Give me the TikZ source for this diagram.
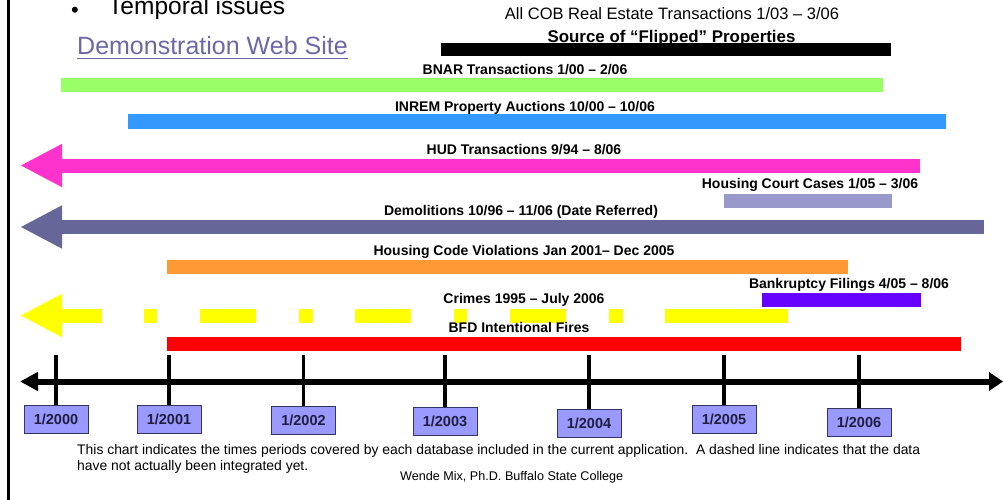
\documentclass[tikz,border=0pt]{standalone}
\usepackage{fontspec}
\setmainfont{Liberation Sans}
\usepackage{tikz}
\usepackage{xcolor}
\usetikzlibrary{positioning}
\usetikzlibrary{calc}
\usetikzlibrary{arrows.meta}
\definecolor{BNARcolor}{RGB}{153, 255, 102}
\definecolor{INREMcolor}{RGB}{51, 153, 255}
\definecolor{HUDcolor}{RGB}{255, 51, 204}
\definecolor{COURTcolor}{RGB}{153, 153, 204}
\definecolor{DEMOcolor}{RGB}{102, 102, 153}
\definecolor{CODEcolor}{RGB}{255, 153, 51}
\definecolor{BANKcolor}{RGB}{102, 0, 255}
\definecolor{CRIMEcolor}{RGB}{255, 255, 0}
\definecolor{FIREcolor}{RGB}{255, 0, 0}
\definecolor{yearfill}{RGB}{153, 153, 255}
\definecolor{yearline}{RGB}{51, 51, 102}
\definecolor{linkcolor}{RGB}{108, 104, 168}
\tikzstyle{bar} = [
	line width=14pt,
]
\tikzstyle{back} = [
	-{Triangle[length=42pt, width=40pt]},
]
\tikzstyle{barlabel} = [
	inner sep=0pt,
	anchor=base,
	font=\fontsize{14}{16}\selectfont\bfseries,
]
\tikzstyle{yearbox} = [
	draw=yearline,
	fill=yearfill,
	minimum width=64pt,
	minimum height=28pt,
	inner sep=0pt,
	text=yearline!60!black,
	font=\fontsize{14.5}{16}\selectfont\bfseries,
]
\tikzstyle{tick} = [
	line width=3.5pt,
]
\tikzstyle{axis} = [
	line width=6pt,
	{Triangle[length=18pt, width=18pt]}-{Triangle[length=14pt, width=18pt]},
]

\begin{document}
\begin{tikzpicture}[x=1pt, y=-1pt]
	\useasboundingbox (0,0) rectangle (1003,500);

	%
	% Frame and heading
	\draw[line width=2.5pt] (8.5,0) -- (8.5,500);
	\node[inner sep=0pt, anchor=base] (bullet) at (75,18) {\fontsize{22}{22}\selectfont\textbullet};
	\node[inner sep=0pt, anchor=base west, font=\fontsize{24.5}{26}\selectfont] (topic) at (108,15) {Temporal issues};
	\node[inner sep=0pt, anchor=base west, text=linkcolor, font=\fontsize{25}{27}\selectfont] (demo) at (77,55) {Demonstration Web Site};
	\draw[linkcolor, line width=1.4pt] ([yshift=-3.5pt]demo.base west) -- ([yshift=-3.5pt]demo.base east);

	%
	% Bars
	\fill[black] (441,43) rectangle (891,56);
	\draw[bar, BNARcolor] (61,85) -- (883,85);
	\draw[bar, INREMcolor] (128,121.5) -- (946,121.5);
	\draw[bar, HUDcolor, back] (920,165.5) -- (20,165.5);
	\draw[bar, COURTcolor] (724,200.5) -- (892,200.5);
	\draw[bar, DEMOcolor, back] (984,227) -- (20,227);
	\draw[bar, CODEcolor] (167,266.5) -- (848,266.5);
	\draw[bar, BANKcolor] (762,300) -- (921,300);
	\draw[bar, CRIMEcolor, back] (102,315.5) -- (20,315.5);
	\foreach \xa/\xb in {144/157, 200/256, 299/313, 355/411, 454/467, 510/566, 609/623, 665/788}
		\fill[CRIMEcolor] (\xa,308.5) rectangle (\xb,322.5);
	\draw[bar, FIREcolor] (167,344) -- (961,344);

	%
	% Bar labels
	\node[barlabel, font=\fontsize{16.5}{18}\selectfont] (COB) at (672,19.5) {All COB Real Estate Transactions 1/03 -- 3/06};
	\node[barlabel, font=\fontsize{16.9}{18}\selectfont\bfseries] (COB_src) at (671.5,42.5) {Source of “Flipped” Properties};
	\node[barlabel] (BNAR) at (525,74.5) {BNAR Transactions 1/00 -- 2/06};
	\node[barlabel] (INREM) at (525,111.5) {INREM Property Auctions 10/00 -- 10/06};
	\node[barlabel] (HUD) at (524,154.5) {HUD Transactions 9/94 -- 8/06};
	\node[barlabel] (COURT) at (810,188.5) {Housing Court Cases 1/05 -- 3/06};
	\node[barlabel] (DEMO) at (521,215.5) {Demolitions 10/96 -- 11/06 (Date Referred)};
	\node[barlabel] (CODE) at (524,255.5) {Housing Code Violations Jan 2001-- Dec 2005};
	\node[barlabel] (BANK) at (849,288.5) {Bankruptcy Filings 4/05 -- 8/06};
	\node[barlabel] (CRIME) at (524,303) {Crimes 1995 -- July 2006};
	\node[barlabel] (FIRE) at (519,332.5) {BFD Intentional Fires};

	%
	% Time axis
	\coordinate (axis_w) at (20,381.5);
	\coordinate (axis_e) at (1003,381.5);
	\draw[axis] (axis_w) -- (axis_e);

	\node[yearbox] (Y2000) at (56,419.5) {1/2000};
	\node[yearbox] (Y2001) at (169,419.5) {1/2001};
	\node[yearbox] (Y2002) at (303.5,420) {1/2002};
	\node[yearbox] (Y2003) at (445,421) {1/2003};
	\node[yearbox] (Y2004) at (589,423) {1/2004};
	\node[yearbox] (Y2005) at (724,419) {1/2005};
	\node[yearbox] (Y2006) at (859,422.5) {1/2006};

	\foreach \yr in {2000,2001,2002,2003,2004,2005,2006}{
		\coordinate (T\yr) at (Y\yr.north |- 0,355);
		\draw[tick] (T\yr) -- (Y\yr.north);
	}

	%
	% Notes
	\node[inner sep=0pt, anchor=base west, align=left, font=\fontsize{13.9}{16}\selectfont] (note) at (77,470) {This chart indicates the times periods covered by each database included in the current application.\ \ A dashed line indicates that the data\\have not actually been integrated yet.};
	\node[inner sep=0pt, anchor=base west, font=\fontsize{12.6}{14}\selectfont] (credit) at (400,480) {Wende Mix, Ph.D. Buffalo State College};

\end{tikzpicture}
\end{document}
